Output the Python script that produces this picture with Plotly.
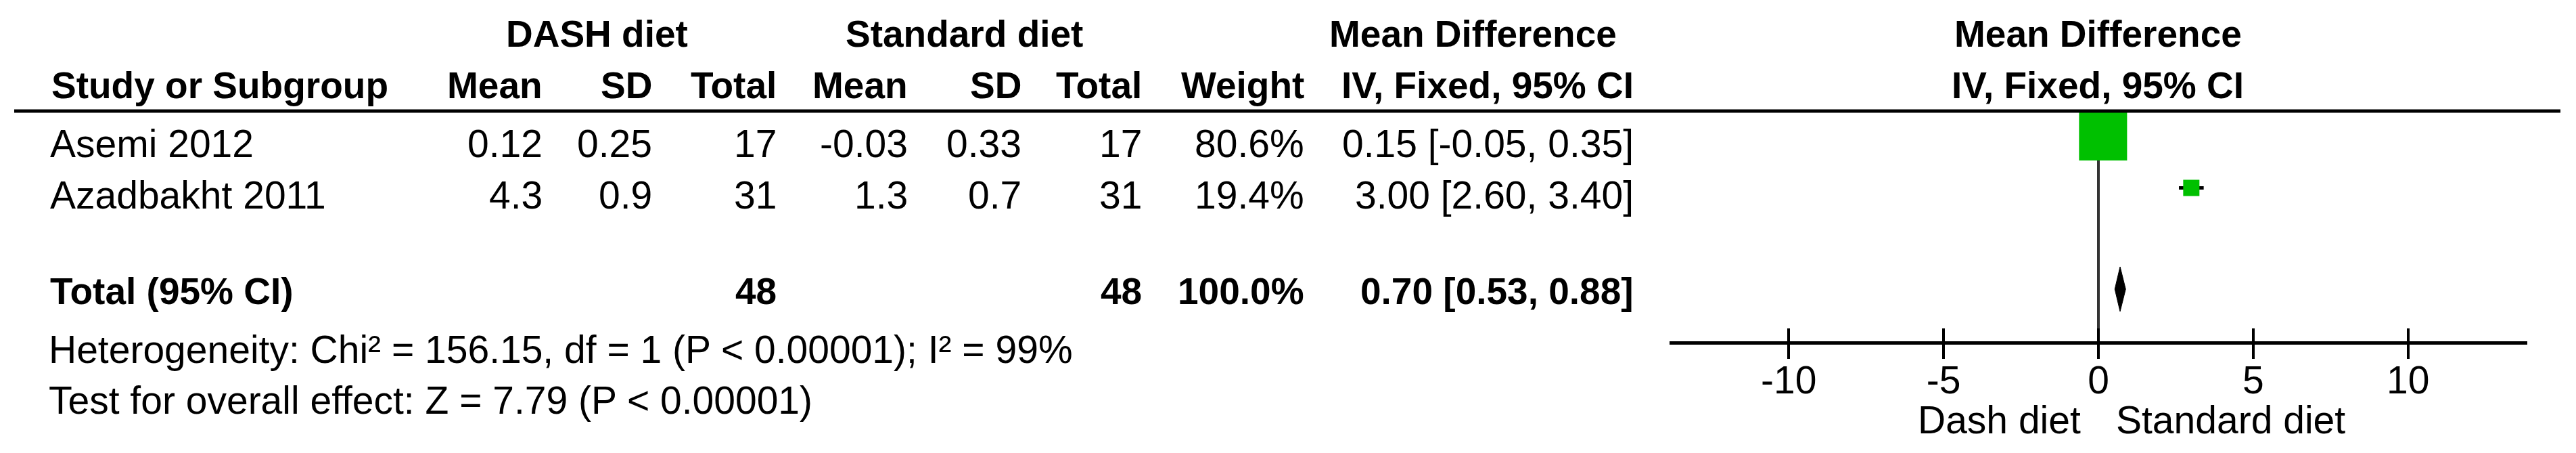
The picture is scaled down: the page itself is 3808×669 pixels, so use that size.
import plotly.graph_objects as go

# ---------------- data ----------------
studies = ["Asemi 2012", "Azadbakht 2011"]
dash_mean = ["0.12", "4.3"]
dash_sd = ["0.25", "0.9"]
dash_n = [17, 31]
std_mean = ["-0.03", "1.3"]
std_sd = ["0.33", "0.7"]
std_n = [17, 31]
weights = [80.6, 19.4]
md = [0.15, 3.00]
ci_lo = [-0.05, 2.60]
ci_hi = [0.35, 3.40]

total_label = "Total (95% CI)"
total_dash_n = 48
total_std_n = 48
total_weight = 100.0
total_md = 0.70
total_lo = 0.53
total_hi = 0.88

heterogeneity = "Heterogeneity: Chi² = 156.15, df = 1 (P &lt; 0.00001); I² = 99%"
overall_effect = "Test for overall effect: Z = 7.79 (P &lt; 0.00001)"

tick_vals = [-10, -5, 0, 5, 10]
tick_text = ["-10", "-5", "0", "5", "10"]
x_range = [-13.85, 13.85]
favours_left = "Dash diet"
favours_right = "Standard diet"

group_headers = ["DASH diet", "Standard diet", "Mean Difference"]
col_headers = ["Mean", "SD", "Total", "Mean", "SD", "Total", "Weight", "IV, Fixed, 95% CI"]
study_header = "Study or Subgroup"
forest_header = ["Mean Difference", "IV, Fixed, 95% CI"]

# ---------------- layout constants ----------------
W, H = 3808, 669
FONT = "Liberation Sans, Arial, Helvetica, sans-serif"
BOLD = 55
REG = 57
GREEN = "#00C000"

STUDY_X = 72
COL_RIGHT = [804, 966, 1150, 1344, 1512, 1690, 1930, 2417]
GROUP_CENTER = [882, 1425, 2177]
FOREST_CENTER = 3101
HDR1_Y, HDR2_Y = 50, 126
TEXT_Y0, TEXT_STEP = 212, 75.5
TOTAL_TEXT_Y = 430
HET_Y, OVR_Y = 516, 591
MARK_Y0, MARK_STEP = 201.5, 76
DIAMOND_Y, DIAMOND_HALF = 427, 33
HEADER_LINE_Y = 164
AXIS_Y = 505.5
FAVOURS_Y = 620
FOREST_DOMAIN = [2468 / W, 3736 / W]


def px(x):
    return x / W


annotations = []


def txt(x, y, s, anchor="left", bold=False, size=None, xref="paper", xshift=0):
    if size is None:
        size = BOLD if bold else REG
    annotations.append(dict(
        x=px(x) if xref == "paper" else x, y=y, xref=xref, yref="y",
        text=f"<b>{s}</b>" if bold else s, showarrow=False,
        xanchor=anchor, yanchor="middle", xshift=xshift,
        font=dict(family=FONT, size=size, color="black"),
    ))


# header row 1
for s, cx in zip(group_headers, GROUP_CENTER):
    txt(cx, HDR1_Y, s, "center", bold=True)
txt(FOREST_CENTER, HDR1_Y, forest_header[0], "center", bold=True)

# header row 2
txt(STUDY_X + 2, HDR2_Y, study_header, "left", bold=True)
for s, rx in zip(col_headers, COL_RIGHT):
    txt(rx, HDR2_Y, s, "right", bold=True)
txt(FOREST_CENTER, HDR2_Y, forest_header[1], "center", bold=True)

# study rows
for i, name in enumerate(studies):
    y = TEXT_Y0 + i * TEXT_STEP
    vals = [dash_mean[i], dash_sd[i], str(dash_n[i]), std_mean[i], std_sd[i],
            str(std_n[i]), f"{weights[i]:.1f}%",
            f"{md[i]:.2f} [{ci_lo[i]:.2f}, {ci_hi[i]:.2f}]"]
    txt(STUDY_X, y, name, "left")
    for v, rx in zip(vals, COL_RIGHT):
        txt(rx, y, v, "right")

# total row
txt(STUDY_X, TOTAL_TEXT_Y, total_label, "left", bold=True)
txt(COL_RIGHT[2], TOTAL_TEXT_Y, str(total_dash_n), "right", bold=True)
txt(COL_RIGHT[5], TOTAL_TEXT_Y, str(total_std_n), "right", bold=True)
txt(COL_RIGHT[6], TOTAL_TEXT_Y, f"{total_weight:.1f}%", "right", bold=True)
txt(COL_RIGHT[7], TOTAL_TEXT_Y,
    f"{total_md:.2f} [{total_lo:.2f}, {total_hi:.2f}]", "right", bold=True)

# footnotes
txt(STUDY_X - 2, HET_Y, heterogeneity, "left")
txt(STUDY_X - 2, OVR_Y, overall_effect, "left")

# favours labels
txt(0, FAVOURS_Y, favours_left, "right", xref="x", xshift=-24)
txt(0, FAVOURS_Y, favours_right, "left", xref="x", xshift=24)

fig = go.Figure()

# study squares with CI whiskers
mark_y = [MARK_Y0 + i * MARK_STEP for i in range(len(studies))]
sizes = [9.1 + 0.768 * w for w in weights]
fig.add_trace(go.Scatter(
    x=md, y=mark_y, mode="markers", xaxis="x", yaxis="y",
    marker=dict(symbol="square", size=sizes, color=GREEN, opacity=1,
                line=dict(width=0)),
    error_x=dict(type="data", symmetric=False,
                 array=[h - m for h, m in zip(ci_hi, md)],
                 arrayminus=[m - l for m, l in zip(md, ci_lo)],
                 thickness=5, width=0, color="black"),
    hoverinfo="skip", showlegend=False, cliponaxis=False,
))

# pooled diamond
fig.add_trace(go.Scatter(
    x=[total_lo, total_md, total_hi, total_md, total_lo],
    y=[DIAMOND_Y, DIAMOND_Y - DIAMOND_HALF, DIAMOND_Y,
       DIAMOND_Y + DIAMOND_HALF, DIAMOND_Y],
    mode="lines", fill="toself", fillcolor="black",
    line=dict(color="black", width=1), xaxis="x", yaxis="y",
    hoverinfo="skip", showlegend=False,
))

# empty trace to carry the upper tick axis
fig.add_trace(go.Scatter(x=[], y=[], xaxis="x2", yaxis="y",
                         showlegend=False, hoverinfo="skip"))

shapes = [
    dict(type="line", xref="paper", yref="y", x0=px(21), x1=px(3785),
         y0=HEADER_LINE_Y, y1=HEADER_LINE_Y, line=dict(color="black", width=5)),
    dict(type="line", xref="x", yref="y", x0=0, x1=0, y0=HEADER_LINE_Y + 2,
         y1=AXIS_Y, line=dict(color="#333333", width=4), layer="below"),
]

axis_pos = 1 - AXIS_Y / H
fig.update_layout(
    width=W, height=H,
    margin=dict(l=0, r=0, t=0, b=0, pad=0),
    paper_bgcolor="white", plot_bgcolor="rgba(0,0,0,0)",
    showlegend=False,
    xaxis=dict(domain=FOREST_DOMAIN, range=x_range, anchor="free",
               position=axis_pos, showline=True, linewidth=5,
               linecolor="black", ticks="outside", ticklen=21, tickwidth=4,
               tickcolor="black", tickvals=tick_vals, ticktext=tick_text,
               ticklabelstandoff=-17,
               tickfont=dict(family=FONT, size=REG, color="black"),
               showgrid=False, zeroline=False, fixedrange=True),
    xaxis2=dict(overlaying="x", range=x_range, anchor="free",
                position=axis_pos, side="top", ticks="outside", ticklen=21,
                tickwidth=4, tickcolor="black", tickvals=tick_vals,
                showticklabels=False, showline=False, showgrid=False,
                zeroline=False, fixedrange=True),
    yaxis=dict(range=[H, 0], domain=[0, 1], visible=False, fixedrange=True,
               showgrid=False, zeroline=False),
    annotations=annotations,
    shapes=shapes,
    font=dict(family=FONT, color="black"),
)

fig.write_html("out.html",
               config={"displayModeBar": False, "staticPlot": True},
               post_script="document.body.style.margin='0';")
